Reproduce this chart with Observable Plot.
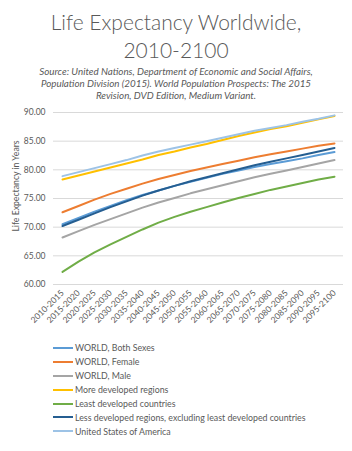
<!DOCTYPE html>
<html><head><meta charset="utf-8">
<script src="https://cdn.jsdelivr.net/npm/d3@7"></script>
<script src="https://cdn.jsdelivr.net/npm/@observablehq/plot@0.6"></script>
<style>
body{margin:0;background:#fff;font-family:Lato,sans-serif;}
#wrap{width:352px;height:451px;position:relative;overflow:hidden;background:#fff}
.title{position:absolute;left:0;width:352px;top:8px;text-align:center;font-size:21px;line-height:28px;color:#595959;font-weight:300}
.sub{position:absolute;left:0;width:352px;top:65px;text-align:center;font-size:9.8px;line-height:12px;font-style:italic;color:#595959}
#chart{position:absolute;left:0;top:100px}
.ylab{position:absolute;left:15px;top:186px;transform:translate(-50%,-50%) rotate(-90deg);font-size:8.7px;color:#595959;white-space:nowrap}
.legend{position:absolute;left:53px;top:341px;font-size:8.8px;color:#595959}
.item{height:13.9px;display:flex;align-items:center;white-space:nowrap}
.sw{width:20px;height:2px;margin-right:2px}
</style>
</head><body>
<div id="wrap">
  <div class="title">Life Expectancy Worldwide,<br>2010-2100</div>
  <div class="sub">Source: United Nations, Department of Economic and Social Affairs,<br>Population Division (2015). World Population Prospects: The 2015<br>Revision, DVD Edition, Medium Variant.</div>
  <div id="chart"></div>
  <div class="ylab">Life Expectancy in Years</div>
  <div class="legend" id="legend"></div>
</div>
<script>
const periods = ["2010-2015","2015-2020","2020-2025","2025-2030","2030-2035","2035-2040","2040-2045","2045-2050","2050-2055","2055-2060","2060-2065","2065-2070","2070-2075","2075-2080","2080-2085","2085-2090","2090-2095","2095-2100"];
const yTicks = [60, 65, 70, 75, 80, 85, 90];

const worldBoth   = [70.5,71.6,72.7,73.7,74.7,75.6,76.4,77.2,77.9,78.6,79.3,79.9,80.5,81.0,81.5,82.0,82.6,83.1];
const worldFemale = [72.6,73.7,74.8,75.8,76.7,77.6,78.4,79.1,79.8,80.4,81.0,81.6,82.2,82.7,83.2,83.7,84.2,84.6];
const worldMale   = [68.2,69.3,70.4,71.4,72.4,73.4,74.3,75.1,75.9,76.6,77.3,78.0,78.7,79.3,79.9,80.5,81.1,81.7];
const moreDev     = [78.3,79.0,79.7,80.4,81.1,81.8,82.6,83.2,83.9,84.5,85.2,85.9,86.5,87.1,87.6,88.2,88.8,89.4];
const leastDev    = [62.2,64.0,65.6,67.0,68.3,69.6,70.8,71.8,72.7,73.5,74.3,75.1,75.8,76.5,77.1,77.7,78.3,78.8];
const lessDevExcl = [70.2,71.3,72.4,73.5,74.5,75.5,76.4,77.2,78.0,78.7,79.4,80.1,80.8,81.4,82.0,82.6,83.2,83.8];
const usa         = [78.9,79.6,80.3,81.0,81.7,82.5,83.2,83.8,84.4,85.0,85.6,86.2,86.8,87.3,87.8,88.4,88.9,89.5];

const seriesNames = ["WORLD, Both Sexes","WORLD, Female","WORLD, Male","More developed regions","Least developed countries","Less developed regions, excluding least developed countries","United States of America"];
const seriesValues = [worldBoth, worldFemale, worldMale, moreDev, leastDev, lessDevExcl, usa];
const seriesColors = ["#5B9BD5","#ED7D31","#A5A5A5","#FFC000","#70AD47","#255E91","#9DC3E6"];

const rows = seriesNames.flatMap((s, i) => periods.map((p, j) => ({series: s, period: p, value: seriesValues[i][j]})));

const chart = Plot.plot({
  width: 352, height: 235,
  marginLeft: 53, marginRight: 9, marginTop: 12, marginBottom: 51,
  style: {fontFamily: "Lato, sans-serif", fontSize: "8.5px", color: "#595959", background: "transparent"},
  x: {type: "point", domain: periods, padding: 0.5, label: null},
  y: {domain: [60, 90], label: null},
  color: {domain: seriesNames, range: seriesColors},
  marks: [
    Plot.ruleY(yTicks, {stroke: "#d9d9d9", strokeWidth: 1}),
    Plot.axisY({ticks: yTicks, tickSize: 0, tickPadding: 8, tickFormat: d => d.toFixed(2), label: null}),
    Plot.axisX({tickSize: 0, tickRotate: -45, tickPadding: 7, label: null}),
    Plot.line(rows, {x: "period", y: "value", z: "series", stroke: "series", strokeWidth: 2})
  ]
});
document.getElementById("chart").appendChild(chart);

const legend = document.getElementById("legend");
seriesNames.forEach((s, i) => {
  const item = document.createElement("div");
  item.className = "item";
  const sw = document.createElement("span");
  sw.className = "sw";
  sw.style.background = seriesColors[i];
  const t = document.createElement("span");
  t.textContent = s;
  item.appendChild(sw); item.appendChild(t);
  legend.appendChild(item);
});
</script>
</body></html>
